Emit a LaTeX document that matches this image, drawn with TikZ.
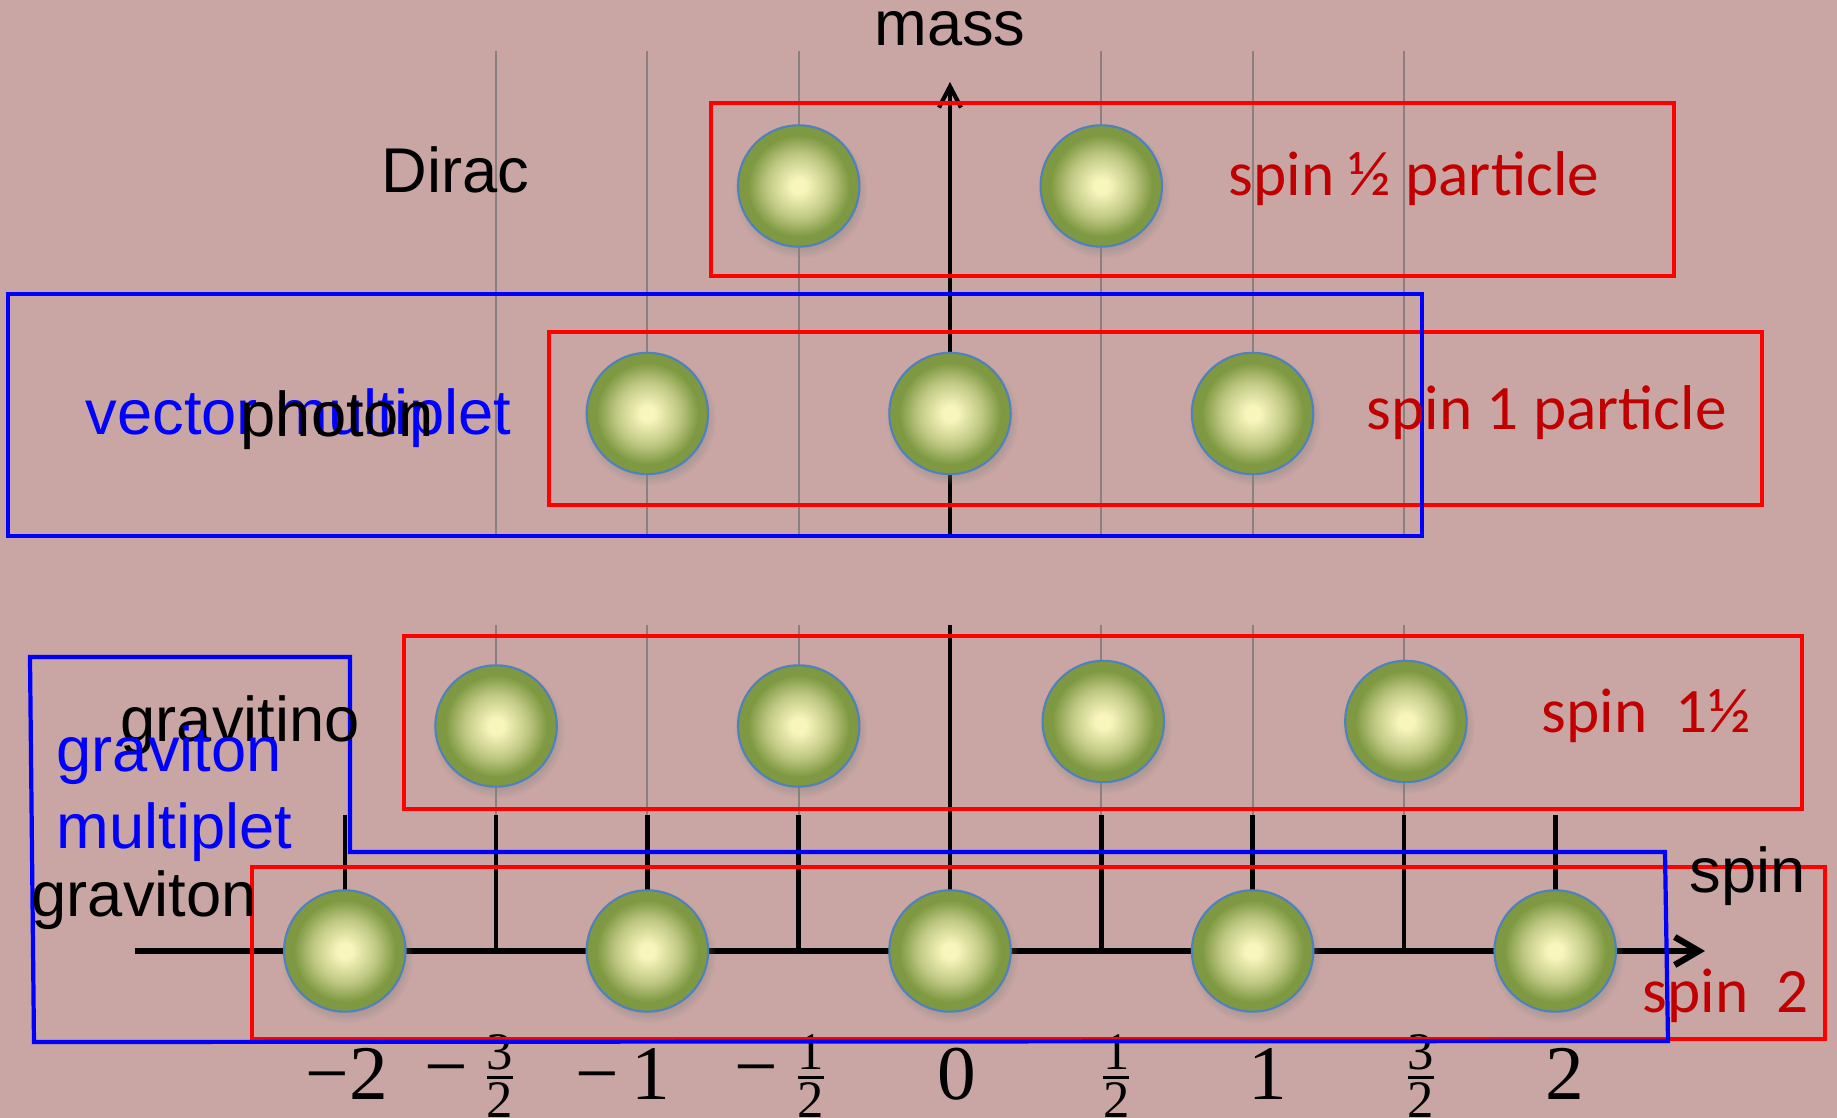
\documentclass[tikz,border=0pt]{standalone}
\usepackage{amsmath}
\usepackage{fontspec}
\setmainfont{Liberation Serif}
\setsansfont{Liberation Sans}
\newfontfamily\calibri{Carlito}
\usetikzlibrary{arrows.meta,shadows}

\definecolor{bgpink}{RGB}{201,166,164}
\definecolor{boxred}{RGB}{255,0,0}
\definecolor{boxblue}{RGB}{0,0,255}
\definecolor{txtred}{RGB}{192,0,0}
\definecolor{gridgray}{RGB}{138,128,128}
\definecolor{ballin}{RGB}{248,246,188}
\definecolor{ballmid}{RGB}{192,200,132}
\definecolor{ballout}{RGB}{126,153,65}
\definecolor{ballrim}{RGB}{79,129,189}

\pgfdeclareradialshading{ballglow}{\pgfpoint{0bp}{0bp}}{%
  color(0bp)=(ballin); color(3bp)=(ballin); color(13bp)=(ballmid);
  color(21bp)=(ballout); color(25bp)=(ballout); color(50bp)=(ballout)}

% fraction n/2 with small digits
\newcommand{\halves}[1]{{\fontsize{16}{19}\selectfont
  $\genfrac{}{}{0.9pt}{}{\text{\fontsize{15}{17}\selectfont #1}}{\text{\fontsize{15}{17}\selectfont 2}}$}}

\tikzset{
  gridline/.style={gridgray, line width=0.6pt},
  tickline/.style={black, line width=1.3pt},
  redbox/.style={draw=boxred, line width=1.2pt},
  bluebox/.style={draw=boxblue, line width=1.2pt},
  ball/.style={circle, minimum size=1.214cm, inner sep=0pt, draw=ballrim,
    line width=0.6pt, shade, shading=ballglow,
    circular drop shadow={shadow xshift=0.02cm, shadow yshift=-0.05cm, opacity=0.35}},
  sflbl/.style={font=\sffamily\fontsize{18}{21}\selectfont, inner sep=0pt, anchor=base west},
  redlbl/.style={font=\calibri\fontsize{18}{21}\selectfont, text=txtred, inner sep=0pt, anchor=base west},
  ticklbl/.style={font=\rmfamily\fontsize{22}{26}\selectfont, inner sep=0pt, anchor=base}
}

\begin{document}
\begin{tikzpicture}
  % Background, 1837 x 1118 px
  \fill[bgpink] (-9.50,-1.67) rectangle (8.87,9.51);
  \useasboundingbox (-9.50,-1.67) rectangle (8.87,9.51);

  % half a unit of spin
  \def\h{1.513}

  % Grid lines
  \foreach \k in {-3,-2,-1,1,2,3} {
    \draw[gridline] (\k*\h,4.15) -- (\k*\h,9.00);
    \draw[gridline] (\k*\h,1.36) -- (\k*\h,3.26);
  }

  % Axes
  \coordinate (O)         at (0,0);
  \coordinate (spinstart) at (-8.15,0);
  \coordinate (spintip)   at (7.55,0);
  \coordinate (massfoot)  at (0,4.15);
  \coordinate (masstip)   at (0,8.69);
  \coordinate (midtop)    at (0,3.26);
  \draw[line width=1.8pt, -{Straight Barb[length=2.4mm,width=2.8mm]}] (spinstart) -- (spintip);
  \draw[line width=1.2pt, -{Straight Barb[length=2.1mm,width=2.2mm]}] (massfoot) -- (masstip);
  \draw[tickline] (O) -- (midtop);

  % Ticks
  \foreach \k in {-4,...,4}
    \draw[tickline] (\k*\h,0) -- (\k*\h,1.36);

  % Tick labels
  \foreach \k/\dx/\y/\lab in {-4/0.24/-1.48/\llap{−}2,
                              -3/0.04/-1.42/\llap{−\hspace{0.15cm}}\halves{3},
                              -2/0.03/-1.48/\llap{−\hspace{0.12cm}}1,
                              -1/0.12/-1.42/\llap{−\hspace{0.15cm}}\halves{1},
                              0/0.07/-1.48/0, 1/0.15/-1.42/\halves{1}, 2/0.15/-1.48/1,
                              3/0.17/-1.42/\halves{3}, 4/0.10/-1.48/2}
    \node[ticklbl] (n\k) at (\k*\h+\dx,\y) {\lab};

  % Boxes
  \draw[redbox] (-2.39,6.75) rectangle (7.24,8.48);
  \draw[redbox] (-4.01,4.46) rectangle (8.12,6.19);
  \draw[bluebox] (-9.42,4.15) rectangle (4.72,6.57);
  \draw[redbox] (-5.46,1.42) rectangle (8.52,3.15);
  \draw[redbox] (-6.98,-0.88) rectangle (8.75,0.84);
  \draw[bluebox] (-9.20,2.94) -- (-6.00,2.94) -- (-6.00,0.99) -- (7.15,0.99)
    -- (7.18,-0.90) -- (-9.16,-0.91) -- cycle;

  % Particles
  \foreach \k in {-1,1}
    \node[ball] (dirac\k) at (\k*\h,7.65) {};
  \foreach \k in {-2,0,2}
    \node[ball] (photon\k) at (\k*\h,5.375) {};
  \node[ball] (gtino-3) at (-3*\h,2.25) {};
  \node[ball] (gtino-1) at (-\h,2.25) {};
  \node[ball] (gtino1)  at (\h+0.02,2.295) {};
  \node[ball] (gtino3)  at (3*\h+0.02,2.295) {};
  \foreach \k in {-4,-2,0,2,4}
    \node[ball] (grav\k) at (\k*\h,0) {};

  % Labels
  \node[sflbl, anchor=base] (masslbl) at (0,9.05) {mass};
  \node[sflbl] (diraclbl) at (-5.69,7.58) {Dirac};
  \node[redlbl] (halflbl) at (2.78,7.55) {spin ½ particle};
  \node[sflbl, text=boxblue] (vectorlbl) at (-8.65,5.16) {vector multiplet};
  \node[sflbl] (photonlbl) at (-7.10,5.14) {photon};
  \node[redlbl] (onelbl) at (4.16,5.21) {spin 1 particle};
  \node[sflbl] (gtinolbl) at (-8.30,2.09) {gravitino};
  \node[redlbl] (threehalflbl) at (5.91,2.18) {spin\ \ 1½};
  \node[sflbl, text=boxblue] (gmultlbl) at (-8.94,1.79) {graviton};
  \node[sflbl, text=boxblue] (gmultlbl2) at (-8.94,1.02) {multiplet};
  \node[sflbl] (gravlbl) at (-9.19,0.34) {graviton};
  \node[sflbl] (spinlbl) at (7.39,0.58) {spin};
  \node[redlbl] (twolbl) at (6.92,-0.62) {spin\ \ 2};
\end{tikzpicture}
\end{document}
